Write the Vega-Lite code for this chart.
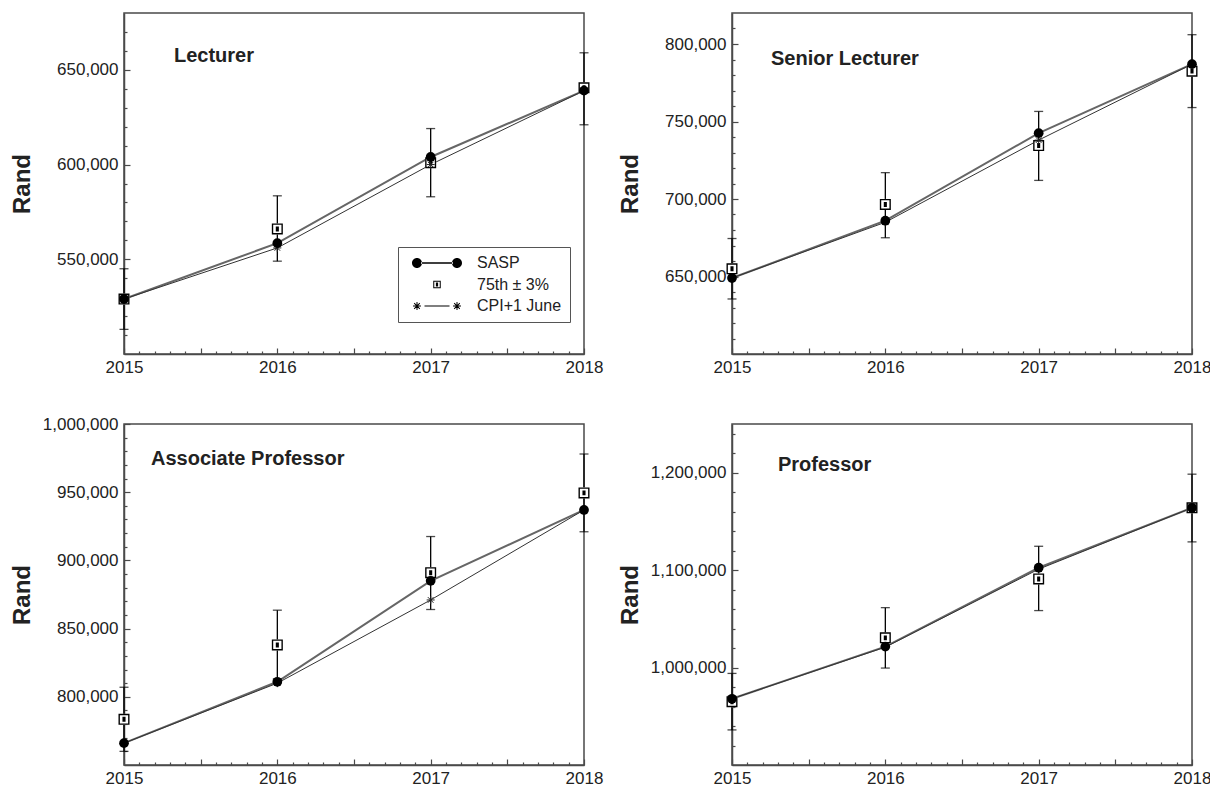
{
  "$schema": "https://vega.github.io/schema/vega-lite/v6.json",
  "padding": {"left": 9, "top": 12, "right": 2, "bottom": 2},
  "background": "white",
  "config": {
    "font": "Liberation Sans",
    "view": {"stroke": "#4a4a4a", "strokeWidth": 1.5},
    "axis": {"grid": false, "domainColor": "#4a4a4a", "domainWidth": 1.5, "tickColor": "#4a4a4a", "tickWidth": 1.2, "labelColor": "#222", "labelFont": "Liberation Sans", "titleFont": "Liberation Sans"},
    "title": {"font": "Liberation Sans"}
  },
  "datasets": {
    "salary": [
      {"panel": "Lecturer", "series": "SASP", "year": 2015, "value": 529000},
      {"panel": "Lecturer", "series": "SASP", "year": 2016, "value": 558500},
      {"panel": "Lecturer", "series": "SASP", "year": 2017, "value": 604000},
      {"panel": "Lecturer", "series": "SASP", "year": 2018, "value": 639000},
      {"panel": "Lecturer", "series": "75th", "year": 2015, "value": 529000, "lo": 513000, "hi": 545000},
      {"panel": "Lecturer", "series": "75th", "year": 2016, "value": 566000, "lo": 549000, "hi": 583500},
      {"panel": "Lecturer", "series": "75th", "year": 2017, "value": 601000, "lo": 583000, "hi": 619000},
      {"panel": "Lecturer", "series": "75th", "year": 2018, "value": 640500, "lo": 621000, "hi": 659000},
      {"panel": "Lecturer", "series": "CPI", "year": 2015, "value": 529000},
      {"panel": "Lecturer", "series": "CPI", "year": 2016, "value": 556000},
      {"panel": "Lecturer", "series": "CPI", "year": 2017, "value": 600000},
      {"panel": "Lecturer", "series": "CPI", "year": 2018, "value": 639000},

      {"panel": "Senior Lecturer", "series": "SASP", "year": 2015, "value": 649000},
      {"panel": "Senior Lecturer", "series": "SASP", "year": 2016, "value": 686000},
      {"panel": "Senior Lecturer", "series": "SASP", "year": 2017, "value": 742500},
      {"panel": "Senior Lecturer", "series": "SASP", "year": 2018, "value": 787000},
      {"panel": "Senior Lecturer", "series": "75th", "year": 2015, "value": 655000, "lo": 635500, "hi": 674500},
      {"panel": "Senior Lecturer", "series": "75th", "year": 2016, "value": 696500, "lo": 675000, "hi": 717000},
      {"panel": "Senior Lecturer", "series": "75th", "year": 2017, "value": 734500, "lo": 712000, "hi": 756500},
      {"panel": "Senior Lecturer", "series": "75th", "year": 2018, "value": 782500, "lo": 759000, "hi": 806000},
      {"panel": "Senior Lecturer", "series": "CPI", "year": 2015, "value": 649000},
      {"panel": "Senior Lecturer", "series": "CPI", "year": 2016, "value": 685000},
      {"panel": "Senior Lecturer", "series": "CPI", "year": 2017, "value": 738000},
      {"panel": "Senior Lecturer", "series": "CPI", "year": 2018, "value": 787000},

      {"panel": "Associate Professor", "series": "SASP", "year": 2015, "value": 766000},
      {"panel": "Associate Professor", "series": "SASP", "year": 2016, "value": 811000},
      {"panel": "Associate Professor", "series": "SASP", "year": 2017, "value": 885000},
      {"panel": "Associate Professor", "series": "SASP", "year": 2018, "value": 937000},
      {"panel": "Associate Professor", "series": "75th", "year": 2015, "value": 783500, "lo": 760000, "hi": 807000},
      {"panel": "Associate Professor", "series": "75th", "year": 2016, "value": 838000, "lo": 813000, "hi": 863500},
      {"panel": "Associate Professor", "series": "75th", "year": 2017, "value": 891000, "lo": 864000, "hi": 917500},
      {"panel": "Associate Professor", "series": "75th", "year": 2018, "value": 949500, "lo": 921000, "hi": 978000},
      {"panel": "Associate Professor", "series": "CPI", "year": 2015, "value": 766000},
      {"panel": "Associate Professor", "series": "CPI", "year": 2016, "value": 810000},
      {"panel": "Associate Professor", "series": "CPI", "year": 2017, "value": 871000},
      {"panel": "Associate Professor", "series": "CPI", "year": 2018, "value": 937000},

      {"panel": "Professor", "series": "SASP", "year": 2015, "value": 968000},
      {"panel": "Professor", "series": "SASP", "year": 2016, "value": 1021500},
      {"panel": "Professor", "series": "SASP", "year": 2017, "value": 1102500},
      {"panel": "Professor", "series": "SASP", "year": 2018, "value": 1164000},
      {"panel": "Professor", "series": "75th", "year": 2015, "value": 965000, "lo": 936000, "hi": 994000},
      {"panel": "Professor", "series": "75th", "year": 2016, "value": 1030500, "lo": 999500, "hi": 1061500},
      {"panel": "Professor", "series": "75th", "year": 2017, "value": 1091000, "lo": 1058500, "hi": 1124500},
      {"panel": "Professor", "series": "75th", "year": 2018, "value": 1164000, "lo": 1129000, "hi": 1198500},
      {"panel": "Professor", "series": "CPI", "year": 2015, "value": 968000},
      {"panel": "Professor", "series": "CPI", "year": 2016, "value": 1021000},
      {"panel": "Professor", "series": "CPI", "year": 2017, "value": 1101000},
      {"panel": "Professor", "series": "CPI", "year": 2018, "value": 1164000}
    ]
  },
  "columns": 2,
  "bounds": "flush",
  "spacing": {"row": 70, "column": 148},
  "resolve": {"scale": {"shape": "independent"}, "legend": {"shape": "independent"}},
  "concat": [
    {
      "width": 460, "height": 341,
      "data": {"name": "salary"},
      "transform": [{"filter": "datum.panel === 'Lecturer'"}],
      "title": {"text": "Lecturer", "anchor": "start", "frame": "group", "orient": "top", "offset": 0, "baseline": "top", "dx": 50, "dy": 53, "fontSize": 20, "fontWeight": "bold", "color": "#222"},
      "resolve": {"axis": {"x": "independent", "y": "independent"}},
      "layer": [
        {
          "transform": [{"filter": "datum.series === 'SASP'"}],
          "mark": {"type": "line", "color": "#666", "strokeWidth": 2},
          "encoding": {
            "x": {"field": "year", "type": "quantitative", "scale": {"domain": [2015, 2018], "nice": false, "zero": false},
                  "axis": {"orient": "bottom", "title": null, "values": [2015, 2015.5, 2016, 2016.5, 2017, 2017.5, 2018], "labelExpr": "datum.value % 1 === 0 ? format(datum.value, 'd') : ''", "tickSize": -6, "labelPadding": 11, "labelFontSize": 17, "labelFlush": false, "labelOverlap": false}},
            "y": {"field": "value", "type": "quantitative", "scale": {"domain": [500000, 680000], "nice": false, "zero": false},
                  "axis": {"orient": "left", "title": "Rand", "values": [550000, 600000, 650000], "format": ",d", "tickSize": -6, "labelPadding": 12, "labelFontSize": 17, "titleFontSize": 24, "titleFontWeight": "bold", "titleColor": "#222", "minExtent": 90, "maxExtent": 90, "titlePadding": 0}}
          }
        },
        {
          "transform": [{"filter": "datum.series === 'CPI'"}],
          "mark": {"type": "line", "color": "#333", "strokeWidth": 1},
          "encoding": {
            "x": {"field": "year", "type": "quantitative", "axis": {"orient": "bottom", "title": null, "labels": false, "domain": false, "tickSize": -3, "values": [2015.1, 2015.2, 2015.3, 2015.4, 2015.6, 2015.7, 2015.8, 2015.9, 2016.1, 2016.2, 2016.3, 2016.4, 2016.6, 2016.7, 2016.8, 2016.9, 2017.1, 2017.2, 2017.3, 2017.4, 2017.6, 2017.7, 2017.8, 2017.9]}},
            "y": {"field": "value", "type": "quantitative", "axis": {"orient": "left", "title": null, "labels": false, "domain": false, "tickSize": -3, "values": [510000, 520000, 530000, 540000, 560000, 570000, 580000, 590000, 610000, 620000, 630000, 640000, 660000, 670000]}}
          }
        },
        {
          "transform": [{"filter": "datum.series === '75th'"}],
          "mark": {"type": "errorbar", "ticks": {"size": 9, "thickness": 1.3, "color": "black"}, "rule": {"strokeWidth": 1.3, "color": "black"}},
          "encoding": {
            "x": {"field": "year", "type": "quantitative", "axis": null},
            "y": {"field": "lo", "type": "quantitative", "axis": null},
            "y2": {"field": "hi"}
          }
        },
        {
          "transform": [{"filter": "datum.series === '75th'"}],
          "mark": {"type": "point", "shape": "square", "filled": true, "color": "white", "size": 121, "opacity": 1, "strokeWidth": 0},
          "encoding": {"x": {"field": "year", "type": "quantitative", "axis": null}, "y": {"field": "value", "type": "quantitative", "axis": null}}
        },
        {
          "transform": [{"filter": "datum.series === '75th'"}],
          "mark": {"type": "point", "shape": "M-1,-1H1V1H-1Z M-0.75,-0.75V0.75H0.75V-0.75Z M-0.28,-0.45H0.28V0.45H-0.28Z", "filled": true, "color": "black", "size": 121, "opacity": 1, "strokeWidth": 0},
          "encoding": {"x": {"field": "year", "type": "quantitative", "axis": null}, "y": {"field": "value", "type": "quantitative", "axis": null}}
        },
        {
          "transform": [{"filter": "datum.series === 'CPI'"}],
          "mark": {"type": "point", "shape": "M-1,0L1,0M0,-1L0,1M-0.7,-0.7L0.7,0.7M-0.7,0.7L0.7,-0.7", "filled": false, "color": "#222", "size": 64, "opacity": 1, "strokeWidth": 1},
          "encoding": {"x": {"field": "year", "type": "quantitative", "axis": null}, "y": {"field": "value", "type": "quantitative", "axis": null}}
        },
        {
          "transform": [{"filter": "datum.series === 'SASP'"}],
          "mark": {"type": "point", "shape": "circle", "filled": true, "color": "black", "size": 95, "opacity": 1, "strokeWidth": 0},
          "encoding": {"x": {"field": "year", "type": "quantitative", "axis": null}, "y": {"field": "value", "type": "quantitative", "axis": null}}
        },
        {
          "transform": [{"filter": "false"}],
          "mark": {"type": "point", "filled": true, "color": "black", "opacity": 1, "strokeWidth": 0},
          "encoding": {
            "shape": {"field": "legendLabel", "type": "nominal",
              "scale": {"domain": ["SASP", "75th ± 3%", "CPI+1 June"],
                        "range": ["M-5,0A1,1 0 1,0 -3,0A1,1 0 1,0 -5,0Z M-3.2,-0.15H3.2V0.15H-3.2Z M3,0A1,1 0 1,0 5,0A1,1 0 1,0 3,0Z",
                                  "M-0.75,-0.75H0.75V0.75H-0.75Z M-0.55,-0.55V0.55H0.55V-0.55Z M-0.22,-0.38H0.22V0.38H-0.22Z",
                                  "M-4.8,-0.1H-3.2V0.1H-4.8Z M-4.1,-0.8H-3.9V0.8H-4.1Z M-4.495,-0.637L-3.363,0.495L-3.505,0.637L-4.637,-0.495Z M-4.637,0.495L-3.505,-0.637L-3.363,-0.495L-4.495,0.637Z M-2.5,-0.1H2.5V0.1H-2.5Z M3.2,-0.1H4.8V0.1H3.2Z M3.9,-0.8H4.1V0.8H3.9Z M3.505,-0.637L4.637,0.495L4.495,0.637L3.363,-0.495Z M3.363,0.495L4.495,-0.637L4.637,-0.495L3.505,0.637Z"]},
              "legend": {"orient": "none", "legendX": 274, "legendY": 234, "title": null, "strokeColor": "#555", "fillColor": "white", "padding": 8, "symbolSize": 100, "symbolFillColor": "black", "symbolStrokeColor": "black", "symbolStrokeWidth": 0, "symbolOffset": 23, "labelOffset": 32, "labelFontSize": 16, "labelFont": "Liberation Sans", "labelColor": "#222", "rowPadding": 5.5}
            }
          }
        }
      ]
    },
    {
      "width": 460, "height": 341,
      "data": {"name": "salary"},
      "transform": [{"filter": "datum.panel === 'Senior Lecturer'"}],
      "title": {"text": "Senior Lecturer", "anchor": "start", "frame": "group", "orient": "top", "offset": 0, "baseline": "top", "dx": 39, "dy": 56, "fontSize": 20, "fontWeight": "bold", "color": "#222"},
      "resolve": {"axis": {"x": "independent", "y": "independent"}},
      "layer": [
        {
          "transform": [{"filter": "datum.series === 'SASP'"}],
          "mark": {"type": "line", "color": "#666", "strokeWidth": 2},
          "encoding": {
            "x": {"field": "year", "type": "quantitative", "scale": {"domain": [2015, 2018], "nice": false, "zero": false},
                  "axis": {"orient": "bottom", "title": null, "values": [2015, 2015.5, 2016, 2016.5, 2017, 2017.5, 2018], "labelExpr": "datum.value % 1 === 0 ? format(datum.value, 'd') : ''", "tickSize": -6, "labelPadding": 11, "labelFontSize": 17, "labelFlush": false, "labelOverlap": false}},
            "y": {"field": "value", "type": "quantitative", "scale": {"domain": [600000, 820000], "nice": false, "zero": false},
                  "axis": {"orient": "left", "title": "Rand", "values": [650000, 700000, 750000, 800000], "format": ",d", "tickSize": -6, "labelPadding": 12, "labelFontSize": 17, "titleFontSize": 24, "titleFontWeight": "bold", "titleColor": "#222", "minExtent": 90, "maxExtent": 90, "titlePadding": 0}}
          }
        },
        {
          "transform": [{"filter": "datum.series === 'CPI'"}],
          "mark": {"type": "line", "color": "#333", "strokeWidth": 1},
          "encoding": {
            "x": {"field": "year", "type": "quantitative", "axis": {"orient": "bottom", "title": null, "labels": false, "domain": false, "tickSize": -3, "values": [2015.1, 2015.2, 2015.3, 2015.4, 2015.6, 2015.7, 2015.8, 2015.9, 2016.1, 2016.2, 2016.3, 2016.4, 2016.6, 2016.7, 2016.8, 2016.9, 2017.1, 2017.2, 2017.3, 2017.4, 2017.6, 2017.7, 2017.8, 2017.9]}},
            "y": {"field": "value", "type": "quantitative", "axis": {"orient": "left", "title": null, "labels": false, "domain": false, "tickSize": -3, "values": [610000, 620000, 630000, 640000, 660000, 670000, 680000, 690000, 710000, 720000, 730000, 740000, 760000, 770000, 780000, 790000, 810000]}}
          }
        },
        {
          "transform": [{"filter": "datum.series === '75th'"}],
          "mark": {"type": "errorbar", "ticks": {"size": 9, "thickness": 1.3, "color": "black"}, "rule": {"strokeWidth": 1.3, "color": "black"}},
          "encoding": {
            "x": {"field": "year", "type": "quantitative", "axis": null},
            "y": {"field": "lo", "type": "quantitative", "axis": null},
            "y2": {"field": "hi"}
          }
        },
        {
          "transform": [{"filter": "datum.series === '75th'"}],
          "mark": {"type": "point", "shape": "square", "filled": true, "color": "white", "size": 121, "opacity": 1, "strokeWidth": 0},
          "encoding": {"x": {"field": "year", "type": "quantitative", "axis": null}, "y": {"field": "value", "type": "quantitative", "axis": null}}
        },
        {
          "transform": [{"filter": "datum.series === '75th'"}],
          "mark": {"type": "point", "shape": "M-1,-1H1V1H-1Z M-0.75,-0.75V0.75H0.75V-0.75Z M-0.28,-0.45H0.28V0.45H-0.28Z", "filled": true, "color": "black", "size": 121, "opacity": 1, "strokeWidth": 0},
          "encoding": {"x": {"field": "year", "type": "quantitative", "axis": null}, "y": {"field": "value", "type": "quantitative", "axis": null}}
        },
        {
          "transform": [{"filter": "datum.series === 'CPI'"}],
          "mark": {"type": "point", "shape": "M-1,0L1,0M0,-1L0,1M-0.7,-0.7L0.7,0.7M-0.7,0.7L0.7,-0.7", "filled": false, "color": "#222", "size": 64, "opacity": 1, "strokeWidth": 1},
          "encoding": {"x": {"field": "year", "type": "quantitative", "axis": null}, "y": {"field": "value", "type": "quantitative", "axis": null}}
        },
        {
          "transform": [{"filter": "datum.series === 'SASP'"}],
          "mark": {"type": "point", "shape": "circle", "filled": true, "color": "black", "size": 95, "opacity": 1, "strokeWidth": 0},
          "encoding": {"x": {"field": "year", "type": "quantitative", "axis": null}, "y": {"field": "value", "type": "quantitative", "axis": null}}
        }
      ]
    },
    {
      "width": 460, "height": 341,
      "data": {"name": "salary"},
      "transform": [{"filter": "datum.panel === 'Associate Professor'"}],
      "title": {"text": "Associate Professor", "anchor": "start", "frame": "group", "orient": "top", "offset": 0, "baseline": "top", "dx": 27, "dy": 54, "fontSize": 20, "fontWeight": "bold", "color": "#222"},
      "resolve": {"axis": {"x": "independent", "y": "independent"}},
      "layer": [
        {
          "transform": [{"filter": "datum.series === 'SASP'"}],
          "mark": {"type": "line", "color": "#666", "strokeWidth": 2},
          "encoding": {
            "x": {"field": "year", "type": "quantitative", "scale": {"domain": [2015, 2018], "nice": false, "zero": false},
                  "axis": {"orient": "bottom", "title": null, "values": [2015, 2015.5, 2016, 2016.5, 2017, 2017.5, 2018], "labelExpr": "datum.value % 1 === 0 ? format(datum.value, 'd') : ''", "tickSize": -6, "labelPadding": 11, "labelFontSize": 17, "labelFlush": false, "labelOverlap": false}},
            "y": {"field": "value", "type": "quantitative", "scale": {"domain": [750000, 1000000], "nice": false, "zero": false},
                  "axis": {"orient": "left", "title": "Rand", "values": [800000, 850000, 900000, 950000, 1000000], "format": ",d", "tickSize": -6, "labelPadding": 12, "labelFontSize": 17, "titleFontSize": 24, "titleFontWeight": "bold", "titleColor": "#222", "minExtent": 90, "maxExtent": 90, "titlePadding": 0, "labelFlush": false}}
          }
        },
        {
          "transform": [{"filter": "datum.series === 'CPI'"}],
          "mark": {"type": "line", "color": "#333", "strokeWidth": 1},
          "encoding": {
            "x": {"field": "year", "type": "quantitative", "axis": {"orient": "bottom", "title": null, "labels": false, "domain": false, "tickSize": -3, "values": [2015.1, 2015.2, 2015.3, 2015.4, 2015.6, 2015.7, 2015.8, 2015.9, 2016.1, 2016.2, 2016.3, 2016.4, 2016.6, 2016.7, 2016.8, 2016.9, 2017.1, 2017.2, 2017.3, 2017.4, 2017.6, 2017.7, 2017.8, 2017.9]}},
            "y": {"field": "value", "type": "quantitative", "axis": {"orient": "left", "title": null, "labels": false, "domain": false, "tickSize": -3, "values": [760000, 770000, 780000, 790000, 810000, 820000, 830000, 840000, 860000, 870000, 880000, 890000, 910000, 920000, 930000, 940000, 960000, 970000, 980000, 990000]}}
          }
        },
        {
          "transform": [{"filter": "datum.series === '75th'"}],
          "mark": {"type": "errorbar", "ticks": {"size": 9, "thickness": 1.3, "color": "black"}, "rule": {"strokeWidth": 1.3, "color": "black"}},
          "encoding": {
            "x": {"field": "year", "type": "quantitative", "axis": null},
            "y": {"field": "lo", "type": "quantitative", "axis": null},
            "y2": {"field": "hi"}
          }
        },
        {
          "transform": [{"filter": "datum.series === '75th'"}],
          "mark": {"type": "point", "shape": "square", "filled": true, "color": "white", "size": 121, "opacity": 1, "strokeWidth": 0},
          "encoding": {"x": {"field": "year", "type": "quantitative", "axis": null}, "y": {"field": "value", "type": "quantitative", "axis": null}}
        },
        {
          "transform": [{"filter": "datum.series === '75th'"}],
          "mark": {"type": "point", "shape": "M-1,-1H1V1H-1Z M-0.75,-0.75V0.75H0.75V-0.75Z M-0.28,-0.45H0.28V0.45H-0.28Z", "filled": true, "color": "black", "size": 121, "opacity": 1, "strokeWidth": 0},
          "encoding": {"x": {"field": "year", "type": "quantitative", "axis": null}, "y": {"field": "value", "type": "quantitative", "axis": null}}
        },
        {
          "transform": [{"filter": "datum.series === 'CPI'"}],
          "mark": {"type": "point", "shape": "M-1,0L1,0M0,-1L0,1M-0.7,-0.7L0.7,0.7M-0.7,0.7L0.7,-0.7", "filled": false, "color": "#222", "size": 64, "opacity": 1, "strokeWidth": 1},
          "encoding": {"x": {"field": "year", "type": "quantitative", "axis": null}, "y": {"field": "value", "type": "quantitative", "axis": null}}
        },
        {
          "transform": [{"filter": "datum.series === 'SASP'"}],
          "mark": {"type": "point", "shape": "circle", "filled": true, "color": "black", "size": 95, "opacity": 1, "strokeWidth": 0},
          "encoding": {"x": {"field": "year", "type": "quantitative", "axis": null}, "y": {"field": "value", "type": "quantitative", "axis": null}}
        }
      ]
    },
    {
      "width": 460, "height": 341,
      "data": {"name": "salary"},
      "transform": [{"filter": "datum.panel === 'Professor'"}],
      "title": {"text": "Professor", "anchor": "start", "frame": "group", "orient": "top", "offset": 0, "baseline": "top", "dx": 46, "dy": 51, "fontSize": 20, "fontWeight": "bold", "color": "#222"},
      "resolve": {"axis": {"x": "independent", "y": "independent"}},
      "layer": [
        {
          "transform": [{"filter": "datum.series === 'SASP'"}],
          "mark": {"type": "line", "color": "#666", "strokeWidth": 2},
          "encoding": {
            "x": {"field": "year", "type": "quantitative", "scale": {"domain": [2015, 2018], "nice": false, "zero": false},
                  "axis": {"orient": "bottom", "title": null, "values": [2015, 2015.5, 2016, 2016.5, 2017, 2017.5, 2018], "labelExpr": "datum.value % 1 === 0 ? format(datum.value, 'd') : ''", "tickSize": -6, "labelPadding": 11, "labelFontSize": 17, "labelFlush": false, "labelOverlap": false}},
            "y": {"field": "value", "type": "quantitative", "scale": {"domain": [900000, 1250000], "nice": false, "zero": false},
                  "axis": {"orient": "left", "title": "Rand", "values": [1000000, 1100000, 1200000], "format": ",d", "tickSize": -6, "labelPadding": 12, "labelFontSize": 17, "titleFontSize": 24, "titleFontWeight": "bold", "titleColor": "#222", "minExtent": 90, "maxExtent": 90, "titlePadding": 0}}
          }
        },
        {
          "transform": [{"filter": "datum.series === 'CPI'"}],
          "mark": {"type": "line", "color": "#333", "strokeWidth": 1},
          "encoding": {
            "x": {"field": "year", "type": "quantitative", "axis": {"orient": "bottom", "title": null, "labels": false, "domain": false, "tickSize": -3, "values": [2015.1, 2015.2, 2015.3, 2015.4, 2015.6, 2015.7, 2015.8, 2015.9, 2016.1, 2016.2, 2016.3, 2016.4, 2016.6, 2016.7, 2016.8, 2016.9, 2017.1, 2017.2, 2017.3, 2017.4, 2017.6, 2017.7, 2017.8, 2017.9]}},
            "y": {"field": "value", "type": "quantitative", "axis": {"orient": "left", "title": null, "labels": false, "domain": false, "tickSize": -3, "values": [920000, 940000, 960000, 980000, 1020000, 1040000, 1060000, 1080000, 1120000, 1140000, 1160000, 1180000, 1220000, 1240000]}}
          }
        },
        {
          "transform": [{"filter": "datum.series === '75th'"}],
          "mark": {"type": "errorbar", "ticks": {"size": 9, "thickness": 1.3, "color": "black"}, "rule": {"strokeWidth": 1.3, "color": "black"}},
          "encoding": {
            "x": {"field": "year", "type": "quantitative", "axis": null},
            "y": {"field": "lo", "type": "quantitative", "axis": null},
            "y2": {"field": "hi"}
          }
        },
        {
          "transform": [{"filter": "datum.series === '75th'"}],
          "mark": {"type": "point", "shape": "square", "filled": true, "color": "white", "size": 121, "opacity": 1, "strokeWidth": 0},
          "encoding": {"x": {"field": "year", "type": "quantitative", "axis": null}, "y": {"field": "value", "type": "quantitative", "axis": null}}
        },
        {
          "transform": [{"filter": "datum.series === '75th'"}],
          "mark": {"type": "point", "shape": "M-1,-1H1V1H-1Z M-0.75,-0.75V0.75H0.75V-0.75Z M-0.28,-0.45H0.28V0.45H-0.28Z", "filled": true, "color": "black", "size": 121, "opacity": 1, "strokeWidth": 0},
          "encoding": {"x": {"field": "year", "type": "quantitative", "axis": null}, "y": {"field": "value", "type": "quantitative", "axis": null}}
        },
        {
          "transform": [{"filter": "datum.series === 'CPI'"}],
          "mark": {"type": "point", "shape": "M-1,0L1,0M0,-1L0,1M-0.7,-0.7L0.7,0.7M-0.7,0.7L0.7,-0.7", "filled": false, "color": "#222", "size": 64, "opacity": 1, "strokeWidth": 1},
          "encoding": {"x": {"field": "year", "type": "quantitative", "axis": null}, "y": {"field": "value", "type": "quantitative", "axis": null}}
        },
        {
          "transform": [{"filter": "datum.series === 'SASP'"}],
          "mark": {"type": "point", "shape": "circle", "filled": true, "color": "black", "size": 95, "opacity": 1, "strokeWidth": 0},
          "encoding": {"x": {"field": "year", "type": "quantitative", "axis": null}, "y": {"field": "value", "type": "quantitative", "axis": null}}
        }
      ]
    }
  ]
}
